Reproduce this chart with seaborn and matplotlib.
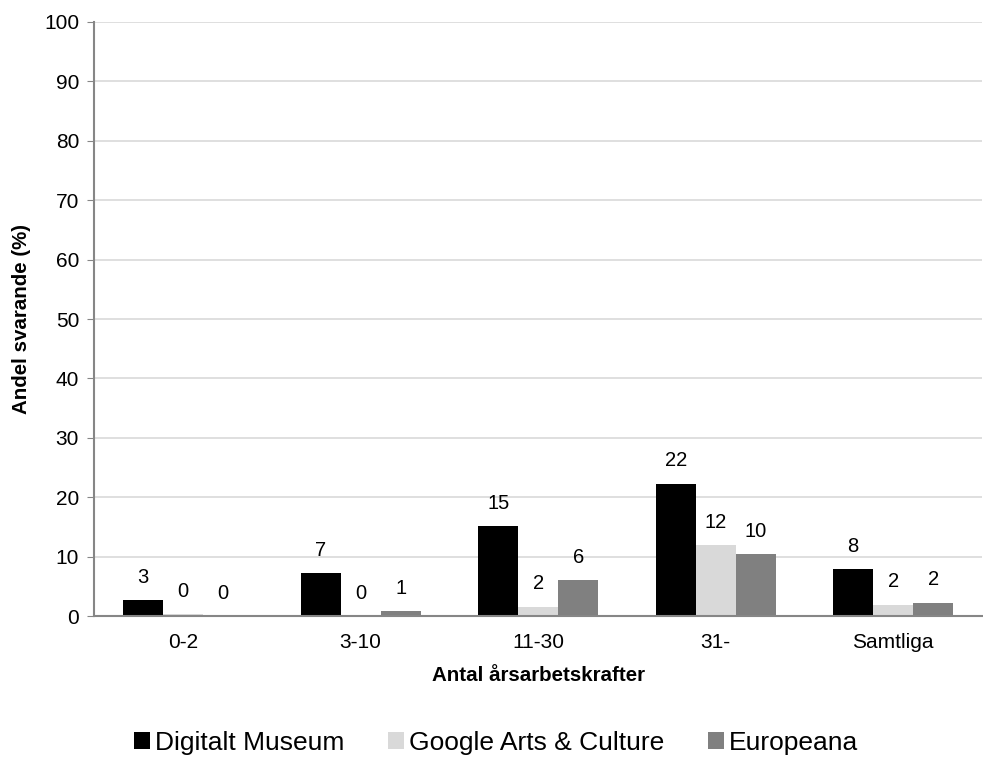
import pandas as pd
import seaborn as sns
import matplotlib.pyplot as plt
from matplotlib.patches import Patch

# Data
categories = ['0-2', '3-10', '11-30', '31-', 'Samtliga']
series = ['Digitalt Museum', 'Google Arts & Culture', 'Europeana']
digitalt = [2.7, 7.2, 15.1, 22.3, 7.85]
google = [0.3, 0.0, 1.6, 11.9, 1.9]
europeana = [0.0, 0.85, 6.0, 10.4, 2.25]
labels_digitalt = ['3', '7', '15', '22', '8']
labels_google = ['0', '0', '2', '12', '2']
labels_europeana = ['0', '1', '6', '10', '2']
colors = ['#000000', '#d9d9d9', '#808080']

df = pd.DataFrame({'cat': categories * 3,
                   'serie': [s for s in series for _ in categories],
                   'val': digitalt + google + europeana,
                   'lab': labels_digitalt + labels_google + labels_europeana})

sns.set_style('white')
plt.rcParams['font.family'] = ['Liberation Sans', 'DejaVu Sans']
plt.rcParams['text.color'] = 'black'
plt.rcParams['axes.labelcolor'] = 'black'
plt.rcParams['xtick.labelcolor'] = 'black'
plt.rcParams['ytick.labelcolor'] = 'black'

fig = plt.figure(figsize=(9.83, 7.58), dpi=100)
ax = fig.add_axes([0.096, 0.1873, 0.903, 0.7837])

sns.barplot(data=df, x='cat', y='val', hue='serie', order=categories,
            hue_order=series, palette=colors, width=0.676, gap=0,
            saturation=1, linewidth=0, ax=ax, legend=False)

# data labels above each bar
for i, s in enumerate(series):
    cont = ax.containers[i]
    sub = df[df['serie'] == s].set_index('cat').loc[categories]
    for bar, lab in zip(cont, sub['lab']):
        ax.annotate(lab, (bar.get_x() + bar.get_width() / 2, bar.get_height()),
                    xytext=(0, 16.5), textcoords='offset points',
                    ha='center', va='center', fontsize=14.5)

ax.set_ylim(0, 100)
ax.set_xlim(-0.5, 4.5)
ax.set_yticks(range(0, 101, 10))
ax.yaxis.grid(True, color='#d9d9d9', linewidth=1.2)
ax.set_axisbelow(True)
for side in ['top', 'right']:
    ax.spines[side].set_visible(False)
for side in ['left', 'bottom']:
    ax.spines[side].set_color('#868686')
    ax.spines[side].set_linewidth(1.5)
ax.tick_params(axis='y', left=True, length=5, color='#868686', labelsize=15, pad=6)
ax.tick_params(axis='x', bottom=False, labelsize=15, pad=9)
ax.set_ylabel('Andel svarande (%)', fontsize=14.8, fontweight='bold', labelpad=9)
ax.set_xlabel('Antal årsarbetskrafter', fontsize=14.8, fontweight='bold', labelpad=10)

handles = [Patch(facecolor=c, edgecolor='none') for c in colors]
fig.legend(handles, series, loc='center', bbox_to_anchor=(0.505, 0.02), ncol=3,
           frameon=False, fontsize=19, handlelength=0.6, handleheight=0.6,
           handletextpad=0.2, columnspacing=1.65)

fig.savefig('out.png', dpi=100)
